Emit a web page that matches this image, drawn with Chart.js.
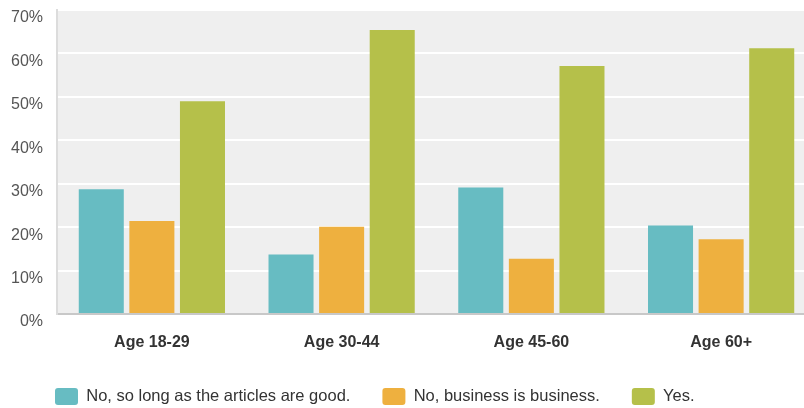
<!DOCTYPE html>
<html>
<head>
<meta charset="utf-8">
<script src="https://cdn.jsdelivr.net/npm/chart.js@4/dist/chart.umd.min.js"></script>
<style>
  html, body { margin: 0; padding: 0; background: #fff; overflow: hidden; }
  /* plot runs a little past the right edge of the picture, as in the original */
  #wrap { width: 816px; height: 408px; position: relative; }
</style>
</head>
<body>
<div id="wrap"><canvas id="ageChart"></canvas></div>
<script>
// Colors
var tealColor = "#67bcc2";
var orangeColor = "#eeb03f";
var greenColor = "#b5c04a";
var plotBg = "#efefef";

// Data
var ageGroups = ['Age 18-29', 'Age 30-44', 'Age 45-60', 'Age 60+'];
var seriesNames = ['No, so long as the articles are good.', 'No, business is business.', 'Yes.'];
var articlesGood = [28.7, 13.7, 29.1, 20.4];
var businessIsBusiness = [21.4, 20.1, 12.7, 17.2];
var yesValues = [49.0, 65.4, 57.1, 61.2];
var yTicks = [0, 10, 20, 30, 40, 50, 60, 70];

var fontFamily = "'Liberation Sans', Arial, Helvetica, sans-serif";

// gray plot background
var plotBackground = {
  id: 'plotBackground',
  beforeDraw: function (chart) {
    var a = chart.chartArea;
    var ctx = chart.ctx;
    ctx.save();
    ctx.fillStyle = plotBg;
    ctx.fillRect(a.left, a.top, a.right - a.left, a.bottom - a.top);
    ctx.restore();
  }
};

// push the legend row a bit to the right, like the original
var legendShift = {
  id: 'legendShift',
  afterLayout: function (chart) {
    if (chart.legend) chart.legend.left += 23;
  }
};

var canvas = document.getElementById('ageChart');

var ageChart = new Chart(canvas, {
  type: 'bar',
  plugins: [plotBackground, legendShift],
  data: {
    labels: ageGroups,
    datasets: [
      {
        label: seriesNames[0],
        data: articlesGood,
        backgroundColor: tealColor,
        borderWidth: 0
      },
      {
        label: seriesNames[1],
        data: businessIsBusiness,
        backgroundColor: orangeColor,
        borderWidth: 0
      },
      {
        label: seriesNames[2],
        data: yesValues,
        backgroundColor: greenColor,
        borderWidth: 0
      }
    ]
  },
  options: {
    responsive: true,
    maintainAspectRatio: false,
    animation: false,
    categoryPercentage: 0.80,
    barPercentage: 0.89,
    layout: {
      padding: { top: 10, left: 0, right: 0, bottom: 0 }
    },
    plugins: {
      tooltip: { enabled: false },
      legend: {
        position: 'bottom',
        align: 'start',
        maxHeight: 52,
        labels: {
          boxWidth: 23,
          boxHeight: 17,
          padding: 32,
          useBorderRadius: true,
          borderRadius: 3,
          color: '#333',
          font: { family: fontFamily, size: 16.5 }
        }
      }
    },
    scales: {
      x: {
        grid: { display: false, drawTicks: false },
        border: { display: true, color: '#c8c8c8', width: 2 },
        ticks: {
          padding: 19,
          color: '#333',
          font: { family: fontFamily, size: 16, weight: 'bold' }
        },
        afterFit: function (scale) {
          scale.height = 42;
          scale.paddingLeft = 0;
          scale.paddingRight = 0;
        }
      },
      y: {
        min: 0,
        max: 70,
        afterBuildTicks: function (scale) {
          scale.ticks = yTicks.map(function (v) { return { value: v }; });
        },
        grid: {
          drawTicks: false,
          lineWidth: 2,
          color: function (ctx) {
            return ctx.tick && ctx.tick.value === 0 ? 'rgba(0,0,0,0)' : '#ffffff';
          }
        },
        border: { display: true, color: '#dcdcdc', width: 2 },
        ticks: {
          padding: 14,
          labelOffset: 8,
          color: '#555',
          font: { family: fontFamily, size: 16 },
          callback: function (v) { return v + '%'; }
        },
        afterFit: function (scale) {
          scale.width = 57;
          scale.paddingTop = 0;
          scale.paddingBottom = 0;
        }
      }
    }
  }
});
</script>
</body>
</html>
